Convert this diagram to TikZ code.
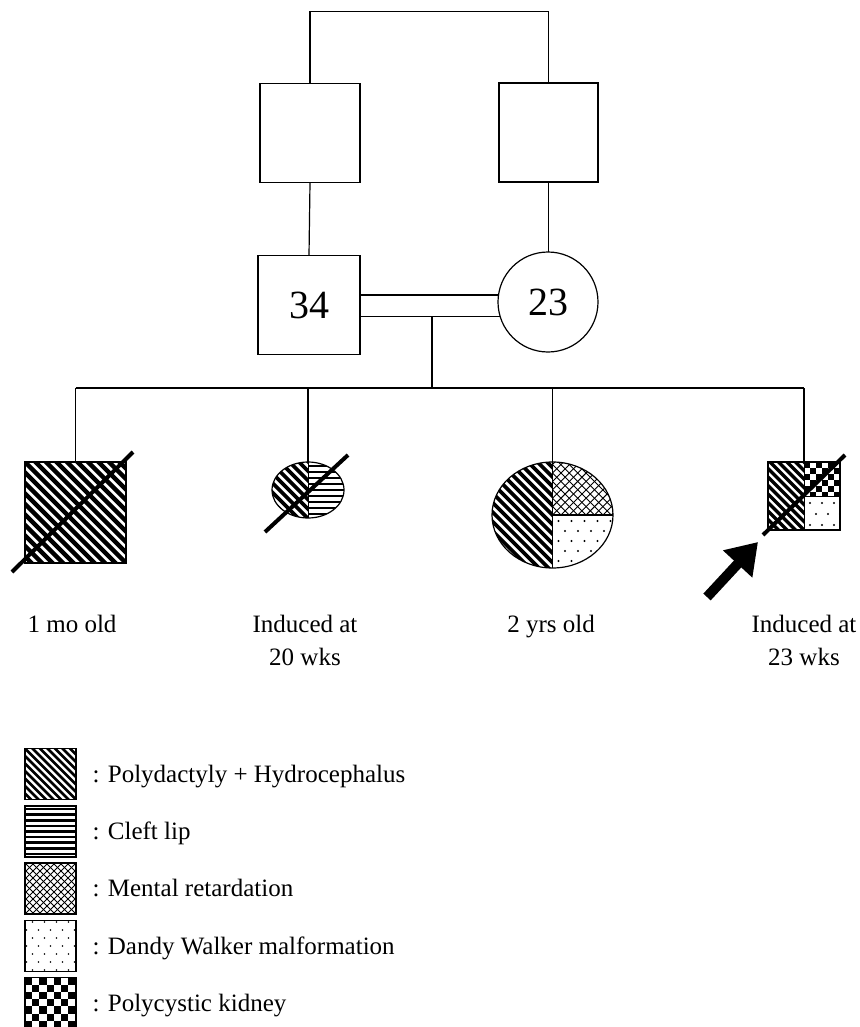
\documentclass[tikz,border=0pt]{standalone}
\usepackage{fontspec}
\setmainfont{Liberation Serif}
\usetikzlibrary{arrows.meta,calc,shapes.geometric}
\def\ppb{path picture bounding box}
% checkerboard: corner, count, cell size
\newcommand\mychecks[3]{%
  \foreach \i in {0,...,#2}{\foreach \j in {0,...,#2}{%
    \ifodd\numexpr\i+\j\relax\else
      \fill ($(#1)+(\i*#3,\j*#3)$) rectangle ++(#3,#3);
    \fi}}}
% "\" hatch: centre, horizontal step, line width
\newcommand\pdiag[3]{%
  \foreach \k in {-25,...,25}{\draw[line width=#3] ($(#1)+(\k*#2,0)+(-110,-110)$) -- ++(220,220);}}
% "/" hatch
\newcommand\pdiagr[3]{%
  \foreach \k in {-25,...,25}{\draw[line width=#3] ($(#1)+(\k*#2,0)+(-110,110)$) -- ++(220,-220);}}
% horizontal lines
\newcommand\phoriz[3]{%
  \foreach \k in {-25,...,25}{\draw[line width=#3] ($(#1)+(-110,\k*#2)$) -- ++(220,0);}}
% staggered dots: centre, dx, dy, radius
\newcommand\pdots[4]{%
  \foreach \k in {-8,...,8}{\foreach \j in {-8,...,8}{%
    \fill ($(#1)+(\j*#2,\k*#3)+({mod(abs(\k),2)*#2/2},0)$) circle[radius=#4];}}}
\begin{document}
\begin{tikzpicture}[x=1pt,y=-1pt,line width=1.2pt,
  sq/.style={draw, rectangle, inner sep=0pt, outer sep=0pt},
  el/.style={draw, ellipse, inner sep=0pt, outer sep=0pt},
  slash/.style={line width=4pt},
  lbl/.style={align=center, inner sep=0pt, font=\fontsize{25}{33}\selectfont},
  leg/.style={anchor=base west, inner sep=0pt, font=\fontsize{25}{30}\selectfont},
  big/.style={font=\fontsize{40}{48}\selectfont}]
\useasboundingbox (0,0) rectangle (859,1027);

% grandparents
\node[sq, minimum width=100pt, minimum height=99pt] (gp1) at (310,133) {};
\node[sq, minimum width=99pt, minimum height=99pt] (gp2) at (548.5,132.5) {};
\draw (gp1.north) -- ++(0,-72) -| (gp2.north);

% parents
\node[sq, big, minimum width=102pt, minimum height=99pt] (fa) at (309,305) {34};
\node[draw, circle, big, minimum size=100pt, inner sep=0pt, outer sep=0pt] (mo) at (548,302) {23};
\draw (gp1.south) -- (fa.north);
\draw (gp2.south) -- (gp2.south |- mo.north);
\draw (fa.east |- mo.172) -- (mo.172);
\draw (fa.east |- mo.197) -- (mo.197);
\coordinate (drop) at (432,317);
\coordinate (sib) at (432,388);
\draw (drop) -- (sib);

% children
\node[sq, minimum width=101pt, minimum height=101pt,
  path picture={\pdiag{\ppb.center}{10.5}{4.4pt}}] (c1) at (75.5,512.5) {};
\node[el, minimum width=72pt, minimum height=56pt,
  path picture={
    \begin{scope}\clip (\ppb.north west) rectangle (\ppb.south);
      \pdiag{\ppb.center}{9.5}{3.8pt}\end{scope}
    \begin{scope}\clip (\ppb.north) rectangle (\ppb.south east);
      \phoriz{\ppb.center}{6}{2.6pt}\end{scope}
    \draw[line width=1pt] (\ppb.north) -- (\ppb.south);
  }] (c2) at (308,490) {};
\node[el, minimum width=121pt, minimum height=106pt,
  path picture={
    \begin{scope}\clip (\ppb.north west) rectangle (\ppb.south);
      \pdiag{\ppb.center}{9.5}{3.8pt}\end{scope}
    \begin{scope}\clip (\ppb.north) rectangle (\ppb.east);
      \pdiag{\ppb.center}{8.4}{0.9pt}\pdiagr{\ppb.center}{8.4}{0.9pt}\end{scope}
    \begin{scope}\clip (\ppb.center) rectangle (\ppb.south east);
      \pdots{$(\ppb.center)+(6,6)$}{13}{10}{1.1pt}\end{scope}
    \draw (\ppb.north) -- (\ppb.south);
    \draw (\ppb.center) -- (\ppb.east);
  }] (c3) at (552.5,515) {};
\node[sq, minimum width=72pt, minimum height=68pt,
  path picture={
    \begin{scope}\clip (\ppb.north west) rectangle (\ppb.south);
      \pdiag{\ppb.center}{8.5}{3.5pt}\end{scope}
    \begin{scope}\clip (\ppb.north) rectangle (\ppb.east);
      \mychecks{\ppb.north}{6}{6}\end{scope}
    \begin{scope}\clip (\ppb.center) rectangle (\ppb.south east);
      \pdots{$(\ppb.center)+(6,7)$}{12}{11}{1.1pt}\end{scope}
    \draw[line width=1pt] (\ppb.north) -- (\ppb.south);
    \draw[line width=1pt] (\ppb.center) -- (\ppb.east);
  }] (c4) at (804,496) {};

\draw (c1.north |- sib) -- (c4.north |- sib);
\foreach \c in {c1,c2,c3,c4} \draw (\c.north |- sib) -- (\c.north);

% deceased slashes
\draw[slash] ($(c1.south west)+(-13,9)$) -- ($(c1.north east)+(7,-10)$);
\draw[slash] ($(c2.center)+(-43,42)$) -- ($(c2.center)+(40,-35)$);
\draw[slash] ($(c4.center)+(-41,39)$) -- ($(c4.center)+(41,-41)$);

% proband arrow
\coordinate (ahead) at ($(c4.south west)+(-10,12)$);
\coordinate (atail) at (707,597);
\draw[line width=10pt, -{Triangle[length=30pt,width=38pt]}] (atail) -- (ahead);

% labels
\node[lbl, anchor=base] (l1) at (72,632) {1 mo old};
\node[lbl] (l2) at (305,640) {Induced at\\20 wks};
\node[lbl, anchor=base] (l3) at (551,632) {2 yrs old};
\node[lbl] (l4) at (804,640) {Induced at\\23 wks};

% legend
\node[sq, minimum size=51pt, path picture={\pdiag{\ppb.center}{7.5}{2.8pt}}] (k1) at (50.5,774) {};
\node[sq, minimum size=51pt, path picture={\phoriz{\ppb.center}{5.6}{2.5pt}}] (k2) at (50.5,831.5) {};
\node[sq, minimum size=51pt, path picture={\pdiag{\ppb.center}{7}{0.8pt}\pdiagr{\ppb.center}{7}{0.8pt}}] (k3) at (50.5,888.5) {};
\node[sq, minimum size=51pt, path picture={\pdots{$(\ppb.center)+(0,0)$}{12}{8}{0.9pt}}] (k4) at (50.5,946) {};
\node[sq, minimum size=51pt,
  path picture={\mychecks{\ppb.north west}{8}{7.2}}] (k5) at (50.5,1003) {};

\node[leg] (t1) at ($(k1.east)+(16,8)$) {: Polydactyly + Hydrocephalus};
\node[leg] (t2) at ($(k2.east)+(16,8)$) {: Cleft lip};
\node[leg] (t3) at ($(k3.east)+(16,8)$) {: Mental retardation};
\node[leg] (t4) at ($(k4.east)+(16,8)$) {: Dandy Walker malformation};
\node[leg] (t5) at ($(k5.east)+(16,8)$) {: Polycystic kidney};
\end{tikzpicture}
\end{document}
